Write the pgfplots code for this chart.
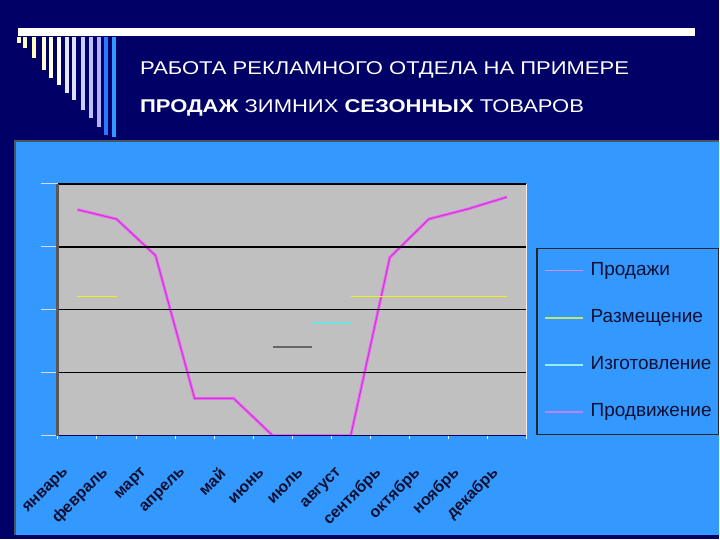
\documentclass[border=0pt]{standalone}
\usepackage{fontspec}
\setmainfont{Liberation Sans}
\usepackage{pgfplots}
\pgfplotsset{compat=1.18}
\definecolor{slidenavy}{RGB}{0,0,102}
\definecolor{chartblue}{RGB}{51,153,255}
\definecolor{plotgray}{RGB}{192,192,192}
\definecolor{salesline}{RGB}{190,60,210}
\definecolor{promoline}{RGB}{245,100,245}
\definecolor{placeline}{RGB}{240,240,20}
\definecolor{makeline}{RGB}{110,225,225}
\definecolor{labeltext}{RGB}{15,15,50}

\begin{document}
\begin{tikzpicture}[x=1pt,y=1pt]
% slide background
\fill[slidenavy] (0,0) rectangle (720,540);
\fill[white] (18,504) rectangle (696,512);
% stripes at the left of the title
\foreach \xx/\yy/\cc in {19/497/{yellow!20},25/492/{yellow!20},34/482/{yellow!25},44/470/{yellow!20},
    51/462/{yellow!10},59/455/white,67/447/{white!90!blue},74/440/{blue!12},83/430/{blue!20},
    91/422/{blue!25},99/413/{blue!30},106/405/{chartblue!80!blue},114/403/chartblue}
  \draw[\cc, line width=3.5pt] (\xx,503) -- (\xx,\yy);
\node[anchor=base west, inner sep=0pt, text=white, font=\fontsize{18.5}{18.5}\selectfont]
  at (140,465) {\scalebox{1.19}[1]{РАБОТА РЕКЛАМНОГО ОТДЕЛА НА ПРИМЕРЕ}};
\node[anchor=base west, inner sep=0pt, text=white, font=\fontsize{18.5}{18.5}\selectfont]
  at (140,427) {\scalebox{1.19}[1]{\textbf{ПРОДАЖ} ЗИМНИХ \textbf{СЕЗОННЫХ} ТОВАРОВ}};
% chart area
\fill[chartblue] (15,4) rectangle (720,399);
\draw[black!70!cyan, line width=1.5pt] (15,4) -- (15,399) -- (720,399);

\begin{axis}[
    at={(58pt,104pt)}, anchor=south west,
    scale only axis, width=469pt, height=252pt,
    xmin=-0.5, xmax=11.5, ymin=0, ymax=4,
    axis lines=left, axis on top,
    axis background/.style={fill=plotgray, draw=white!85!brown},
    x axis line style={-, draw=slidenavy, line width=1.5pt},
    y axis line style={-, draw=black!65, line width=3pt},
    xtick={0,...,11},
    xticklabels={январь,февраль,март,апрель,май,июнь,июль,август,сентябрь,октябрь,ноябрь,декабрь},
    major x tick style={draw=none},
    minor xtick={-0.5,0.5,...,11.5},
    minor x tick style={draw=white, line width=1pt},
    minor tick length=3pt,
    tick align=outside,
    ytick={0,1,2,3,4}, yticklabels={},
    y tick style={draw=white!85!blue, line width=1.3pt},
    major tick length=17pt,
    ymajorgrids, major y grid style={draw=black, line width=1.6pt},
    xticklabel style={xshift=-11pt, yshift=-18pt, rotate=45, anchor=east, inner sep=0pt,
        font=\fontsize{16}{16}\selectfont\bfseries, text=labeltext},
    legend image code/.code={\draw[#1] (0pt,0pt) -- (38pt,0pt);},
    legend cell align=left,
    legend style={at={(1.0213,0.746)}, anchor=north west, fill=chartblue,
        draw=black!85, line width=1.5pt, inner xsep=7pt, inner ysep=14pt, row sep=30pt,
        font=\fontsize{19}{19}\selectfont, text=labeltext,
        nodes={inner sep=0pt, text height=13pt, text depth=4pt},
        /tikz/every odd column/.append style={column sep=6pt}},
]
\addlegendimage{color=salesline!60!white, line width=1pt}
\addlegendimage{color=yellow!60!green!60!white, line width=2pt}
\addlegendimage{color=makeline!70!white, line width=2.5pt}
\addlegendimage{color=promoline!70!blue!70!white, line width=2.5pt}
% Продвижение
\addplot[forget plot, color=promoline, line width=3pt] coordinates {
  (0,3.59) (1,3.44) (2,2.86) (3,0.59) (4,0.59) (5,0) (6,0) (7,0)
  (8,2.83) (9,3.44) (10,3.60) (11,3.79)};
% Продажи
\addplot[forget plot, color=salesline, line width=1pt] coordinates {
  (0,3.59) (1,3.44) (2,2.86) (3,0.59) (4,0.59) (5,0) (6,0) (7,0)
  (8,2.83) (9,3.44) (10,3.60) (11,3.79)};
% Размещение
\addplot[forget plot, color=placeline, line width=1.8pt, unbounded coords=jump] coordinates {
  (0,2.21) (1,2.21) (2,nan) (7,2.21) (8,2.21) (9,2.21) (10,2.21) (11,2.21)};
% Изготовление
\addplot[forget plot, color=makeline, line width=2pt] coordinates {(6,1.79) (7,1.79)};
% unnamed dark segment
\addplot[forget plot, color=black!60, line width=1.8pt] coordinates {(5,1.41) (6,1.41)};
\legend{Продажи,Размещение,Изготовление,Продвижение}
\end{axis}
\end{tikzpicture}
\end{document}
